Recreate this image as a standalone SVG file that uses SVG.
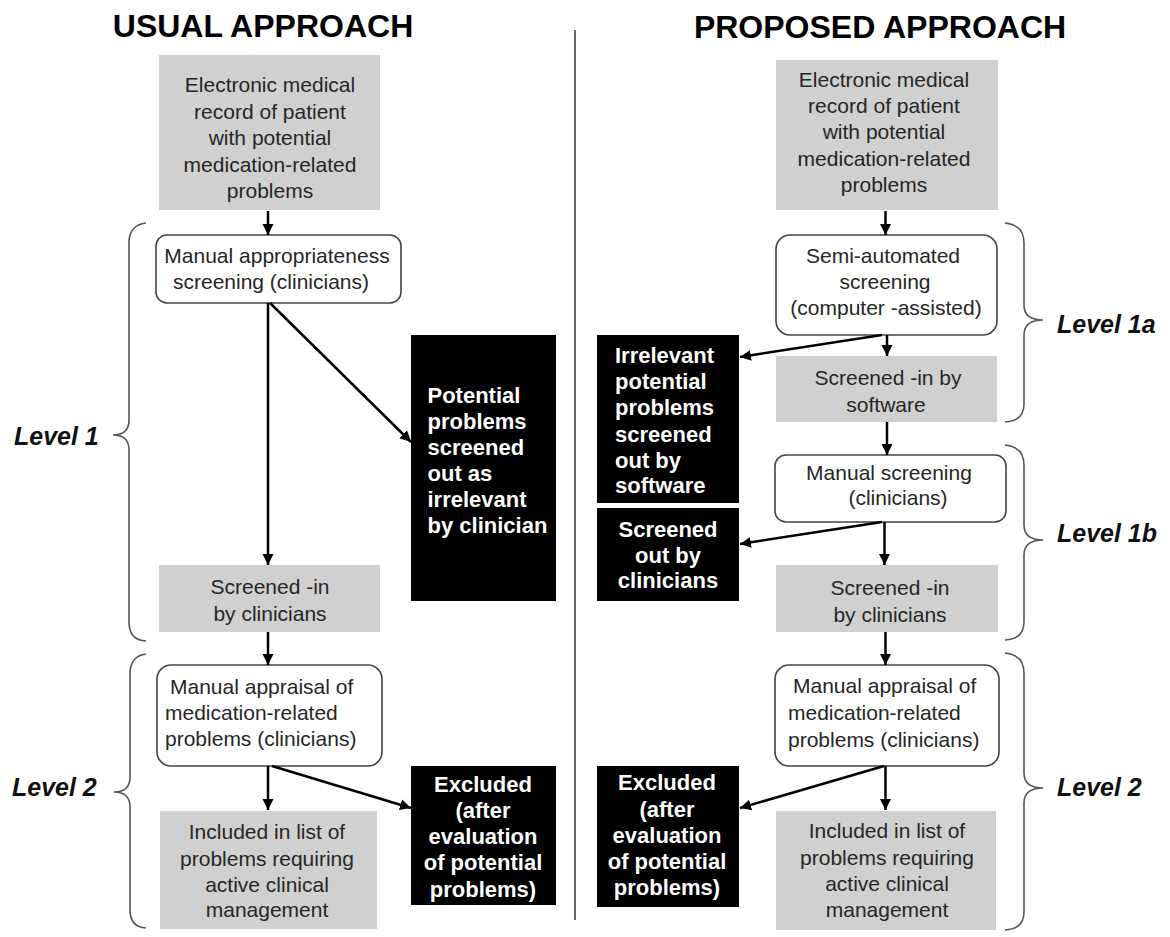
<svg xmlns="http://www.w3.org/2000/svg" width="1170" height="937" viewBox="0 0 1170 937">
<style>
.title{font-family:"Liberation Sans",Arial,sans-serif;font-size:32px;font-weight:bold;fill:#000;text-anchor:middle}
.gray{fill:#d0d0d0;stroke:none}
.round{fill:#fff;stroke:#444;stroke-width:1.6}
.black{fill:#000;stroke:none}
.t{font-family:"Liberation Sans",Arial,sans-serif;font-size:21px;fill:#262626;text-anchor:middle}
.ts{font-family:"Liberation Sans",Arial,sans-serif;font-size:21px;fill:#262626;text-anchor:start}
.w{font-family:"Liberation Sans",Arial,sans-serif;font-size:22px;font-weight:bold;fill:#fff;text-anchor:middle}
.wl{font-family:"Liberation Sans",Arial,sans-serif;font-size:22px;font-weight:bold;fill:#fff;text-anchor:start}
.lvl{font-family:"Liberation Sans",Arial,sans-serif;font-size:25px;font-weight:bold;font-style:italic;fill:#111}
.conn{fill:none;stroke:#000;stroke-width:2.5;marker-end:url(#ah)}
.brace{fill:none;stroke:#555;stroke-width:1.6}
</style>
<defs>
<marker id="ah" markerWidth="12" markerHeight="12" refX="11" refY="6" orient="auto" markerUnits="userSpaceOnUse">
<path d="M0,0.5 L11,6 L0,11.5 z" fill="#000"/>
</marker>
</defs>

<text class="title" x="263" y="37">USUAL APPROACH</text>
<text class="title" x="880" y="38">PROPOSED APPROACH</text>
<line x1="575" y1="30" x2="575" y2="920" stroke="#444" stroke-width="1.6"/>

<!-- LEFT -->
<g id="l-emr">
<rect class="gray" x="159" y="55" width="221" height="155"/>
<text class="t" x="270" y="92">Electronic medical</text>
<text class="t" x="270" y="118.5">record of patient</text>
<text class="t" x="270" y="145">with potential</text>
<text class="t" x="270" y="171.5">medication-related</text>
<text class="t" x="270" y="198">problems</text>
</g>
<g id="l-manual">
<rect class="round" x="156" y="235" width="245" height="68" rx="11"/>
<text class="t" x="277" y="263">Manual appropriateness</text>
<text class="t" x="271" y="289">screening (clinicians)</text>
</g>
<g id="l-out1">
<rect class="black" x="411" y="335" width="145" height="266"/>
<text class="wl" x="427.5" y="403">Potential</text>
<text class="wl" x="427.5" y="429">problems</text>
<text class="wl" x="427.5" y="455">screened</text>
<text class="wl" x="427.5" y="481">out as</text>
<text class="wl" x="427.5" y="507">irrelevant</text>
<text class="wl" x="427.5" y="533">by clinician</text>
</g>
<g id="l-screenedin">
<rect class="gray" x="159" y="565" width="221" height="67"/>
<text class="t" x="270" y="594">Screened -in</text>
<text class="t" x="270" y="621">by clinicians</text>
</g>
<g id="l-appraisal">
<rect class="round" x="157" y="665" width="225" height="101" rx="14"/>
<text class="ts" x="170" y="694">Manual appraisal of</text>
<text class="ts" x="165" y="720">medication-related</text>
<text class="ts" x="165" y="746">problems (clinicians)</text>
</g>
<g id="l-included">
<rect class="gray" x="160" y="811" width="217" height="118"/>
<text class="t" x="267" y="839">Included in list of</text>
<text class="t" x="267" y="866">problems requiring</text>
<text class="t" x="267" y="892">active clinical</text>
<text class="t" x="267" y="917">management</text>
</g>
<g id="l-excluded">
<rect class="black" x="411" y="766" width="145" height="139"/>
<text class="w" x="483" y="792">Excluded</text>
<text class="w" x="483" y="818">(after</text>
<text class="w" x="483" y="844">evaluation</text>
<text class="w" x="483" y="870">of potential</text>
<text class="w" x="483" y="897">problems)</text>
</g>
<g id="l-level1">
<path class="brace" d="M146,223 Q129,225 129,243 L129,420 Q129,435 113,435 Q129,435 129,450 L129,622 Q129,640 146,641"/>
<text class="lvl" x="14" y="445">Level 1</text>
</g>
<g id="l-level2">
<path class="brace" d="M146,654 Q130,656 130,674 L130,777 Q130,792 114,792 Q130,792 130,807 L130,910 Q130,927 146,928"/>
<text class="lvl" x="12" y="796">Level 2</text>
</g>

<!-- RIGHT -->
<g id="r-emr">
<rect class="gray" x="776" y="60" width="222" height="150"/>
<text class="t" x="884" y="87">Electronic medical</text>
<text class="t" x="884" y="113">record of patient</text>
<text class="t" x="884" y="139">with potential</text>
<text class="t" x="884" y="166">medication-related</text>
<text class="t" x="884" y="192">problems</text>
</g>
<g id="r-semi">
<rect class="round" x="776" y="235" width="221" height="100" rx="14"/>
<text class="t" x="883" y="263">Semi-automated</text>
<text class="t" x="885" y="289">screening</text>
<text class="t" x="886" y="315">(computer -assisted)</text>
</g>
<g id="r-software">
<rect class="gray" x="776" y="356" width="221" height="66"/>
<text class="t" x="888" y="385">Screened -in by</text>
<text class="t" x="886" y="412">software</text>
</g>
<g id="r-out1">
<rect class="black" x="597" y="335" width="142" height="168"/>
<text class="wl" x="615" y="363">Irrelevant</text>
<text class="wl" x="615" y="389">potential</text>
<text class="wl" x="615" y="415">problems</text>
<text class="wl" x="615" y="442">screened</text>
<text class="wl" x="615" y="468">out by</text>
<text class="wl" x="615" y="493">software</text>
</g>
<g id="r-manual">
<rect class="round" x="775" y="455" width="231" height="67" rx="11"/>
<text class="t" x="889" y="480">Manual screening</text>
<text class="t" x="898" y="505">(clinicians)</text>
</g>
<g id="r-out2">
<rect class="black" x="597" y="508" width="142" height="93"/>
<text class="w" x="668" y="537">Screened</text>
<text class="w" x="668" y="563">out by</text>
<text class="w" x="668" y="588">clinicians</text>
</g>
<g id="r-screenedin">
<rect class="gray" x="776" y="565" width="222" height="67"/>
<text class="t" x="890" y="595">Screened -in</text>
<text class="t" x="890" y="622">by clinicians</text>
</g>
<g id="r-appraisal">
<rect class="round" x="775" y="665" width="224" height="101" rx="14"/>
<text class="ts" x="793" y="693">Manual appraisal of</text>
<text class="ts" x="788" y="720">medication-related</text>
<text class="ts" x="788" y="747">problems (clinicians)</text>
</g>
<g id="r-excluded">
<rect class="black" x="597" y="766" width="142" height="141"/>
<text class="w" x="667" y="790">Excluded</text>
<text class="w" x="667" y="817">(after</text>
<text class="w" x="667" y="843">evaluation</text>
<text class="w" x="667" y="869">of potential</text>
<text class="w" x="667" y="895">problems)</text>
</g>
<g id="r-included">
<rect class="gray" x="776" y="811" width="220" height="119"/>
<text class="t" x="887" y="838">Included in list of</text>
<text class="t" x="887" y="865">problems requiring</text>
<text class="t" x="887" y="891">active clinical</text>
<text class="t" x="887" y="917">management</text>
</g>
<g id="r-level1a">
<path class="brace" d="M1005,223 Q1024,225 1024,243 L1024,305 Q1024,320 1043,320 Q1024,320 1024,335 L1024,404 Q1024,421 1005,422"/>
<text class="lvl" x="1057" y="333">Level 1a</text>
</g>
<g id="r-level1b">
<path class="brace" d="M1005,445 Q1024,447 1024,465 L1024,525 Q1024,540 1043,540 Q1024,540 1024,555 L1024,622 Q1024,639 1005,640"/>
<text class="lvl" x="1057" y="542">Level 1b</text>
</g>
<g id="r-level2">
<path class="brace" d="M1005,653 Q1024,655 1024,673 L1024,773 Q1024,788 1043,788 Q1024,788 1024,803 L1024,912 Q1024,929 1005,930"/>
<text class="lvl" x="1057" y="796">Level 2</text>
</g>

<g id="connectors">
<line class="conn" x1="268" y1="211" x2="268" y2="235"/>
<line class="conn" x1="268" y1="303" x2="268" y2="565"/>
<line class="conn" x1="270" y1="303" x2="411" y2="442"/>
<line class="conn" x1="268" y1="632" x2="268" y2="665"/>
<line class="conn" x1="268" y1="766" x2="268" y2="810"/>
<line class="conn" x1="272" y1="766" x2="411" y2="808"/>

<line class="conn" x1="885.5" y1="211" x2="885.5" y2="235"/>
<line class="conn" x1="887" y1="335" x2="887" y2="356"/>
<line class="conn" x1="882" y1="335" x2="740" y2="357"/>
<line class="conn" x1="887" y1="422" x2="887" y2="455"/>
<line class="conn" x1="882" y1="522" x2="740" y2="544"/>
<line class="conn" x1="884.5" y1="522" x2="884.5" y2="565"/>
<line class="conn" x1="885.5" y1="632" x2="885.5" y2="665"/>
<line class="conn" x1="884" y1="766" x2="740" y2="808"/>
<line class="conn" x1="885.5" y1="766" x2="885.5" y2="810"/>
</g>
</svg>
